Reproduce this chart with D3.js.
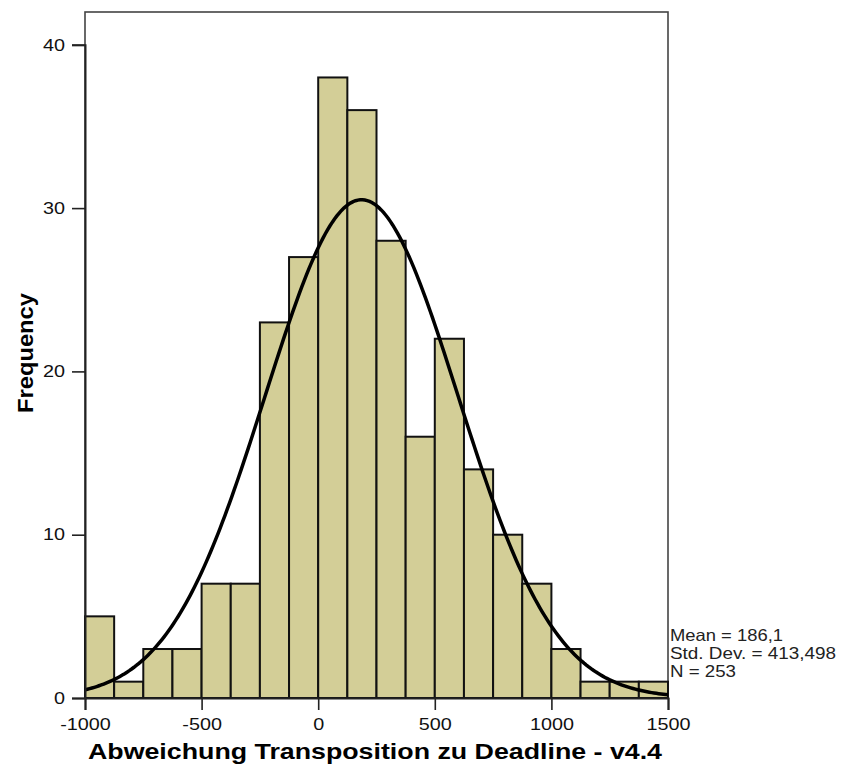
<!DOCTYPE html>
<html>
<head>
<meta charset="utf-8">
<script src="https://cdn.jsdelivr.net/npm/d3@7"></script>
<style>
  body { margin: 0; background: #fff; }
  svg { display: block; }
  .tick text {
    font-family: "Liberation Sans", Arial, sans-serif; font-size: 16.5px; fill: #111;
    transform-box: fill-box; transform: scaleX(1.2);
  }
  .x-axis .tick text { transform-origin: 50% 50%; }
  .y-axis .tick text { transform-origin: 100% 50%; }
  .axis-title { font-family: "Liberation Sans", Arial, sans-serif; font-size: 22px; font-weight: bold; fill: #000; }
  .stats { font-family: "Liberation Sans", Arial, sans-serif; font-size: 16.5px; fill: #222; }
</style>
</head>
<body>
<div id="js-canvas"></div>
<script>
"use strict";

// Bin edges of the histogram (bin width 125).
const binStarts = [-1000, -875, -750, -625, -500, -375, -250, -125, 0, 125,
                   250, 375, 500, 625, 750, 875, 1000, 1125, 1250, 1375];
const binWidth = 125;

// Frequency of each bin.
const counts = [5, 1, 3, 3, 7, 7, 23, 27, 38, 36,
                28, 16, 22, 14, 10, 7, 3, 1, 1, 1];

const xTicks = [-1000, -500, 0, 500, 1000, 1500];
const yTicks = [0, 10, 20, 30, 40];

// Summary statistics printed next to the chart.
const mean = 186.1;
const stdDev = 413.498;
const n = 253;
const statLines = ["Mean = 186,1", "Std. Dev. = 413,498", "N = 253"];

const width = 841;
const height = 764;
const plot = { left: 85, right: 668, top: 12, bottom: 698 };

function createCanvas(w, h) {
  return d3.select("#js-canvas")
    .append("svg")
      .attr("width", w)
      .attr("height", h);
}

const svg = createCanvas(width, height);

const x = d3.scaleLinear().domain([-1000, 1500]).range([plot.left, plot.right]);
const y = d3.scaleLinear().domain([0, 40]).range([plot.bottom, plot.bottom - 40 * 16.33]);

// plot frame
svg.append("rect")
  .attr("x", plot.left)
  .attr("y", plot.top)
  .attr("width", plot.right - plot.left)
  .attr("height", plot.bottom - plot.top)
  .attr("fill", "#fff")
  .attr("stroke", "#444")
  .attr("stroke-width", 1.6);

// bars
svg.append("g")
  .selectAll("rect")
  .data(counts)
  .enter()
  .append("rect")
    .attr("x", function (d, i) { return x(binStarts[i]); })
    .attr("y", function (d) { return y(d); })
    .attr("width", function (d, i) { return x(binStarts[i] + binWidth) - x(binStarts[i]); })
    .attr("height", function (d) { return y(0) - y(d); })
    .attr("fill", "#d3ce97")
    .attr("stroke", "#111")
    .attr("stroke-width", 2);

// fitted normal curve from the printed statistics
const curve = d3.range(-1000, 1500.1, 10).map(function (v) {
  const z = (v - mean) / stdDev;
  return [v, n * binWidth / (stdDev * Math.sqrt(2 * Math.PI)) * Math.exp(-0.5 * z * z)];
});

svg.append("path")
  .datum(curve)
  .attr("fill", "none")
  .attr("stroke", "#000")
  .attr("stroke-width", 3.5)
  .attr("d", d3.line()
    .x(function (d) { return x(d[0]); })
    .y(function (d) { return y(d[1]); }));

// axes; SPSS uses a plain hyphen for negatives
const fmt = function (d) { return String(d); };
const xAxis = svg.append("g")
  .attr("class", "x-axis")
  .attr("transform", "translate(0," + plot.bottom + ")")
  .call(d3.axisBottom(x).tickValues(xTicks).tickSize(12).tickPadding(8).tickFormat(fmt));
const yAxis = svg.append("g")
  .attr("class", "y-axis")
  .attr("transform", "translate(" + plot.left + ",0)")
  .call(d3.axisLeft(y).tickValues(yTicks).tickSize(13).tickPadding(7).tickFormat(fmt));

[xAxis, yAxis].forEach(function (a) {
  a.select(".domain").attr("stroke", "#222").attr("stroke-width", 2);
  a.selectAll(".tick line").attr("stroke", "#222").attr("stroke-width", 1.6);
});

svg.append("text")
  .attr("class", "axis-title")
  .attr("x", 375)
  .attr("y", 759)
  .attr("text-anchor", "middle")
  .attr("textLength", 574)
  .attr("lengthAdjust", "spacingAndGlyphs")
  .text("Abweichung Transposition zu Deadline - v4.4");

svg.append("text")
  .attr("class", "axis-title")
  .attr("transform", "translate(33,353) rotate(-90)")
  .attr("text-anchor", "middle")
  .attr("textLength", 120)
  .attr("lengthAdjust", "spacingAndGlyphs")
  .text("Frequency");

// stats block, stretched to the widths measured on the reference
const statWidths = [113, 166, 66];
svg.append("g")
  .selectAll("text")
  .data(statLines)
  .enter()
  .append("text")
    .attr("class", "stats")
    .attr("x", plot.right + 2)
    .attr("y", function (d, i) { return 641 + i * 18; })
    .attr("textLength", function (d, i) { return statWidths[i]; })
    .attr("lengthAdjust", "spacingAndGlyphs")
    .text(function (d) { return d; });
</script>
</body>
</html>
